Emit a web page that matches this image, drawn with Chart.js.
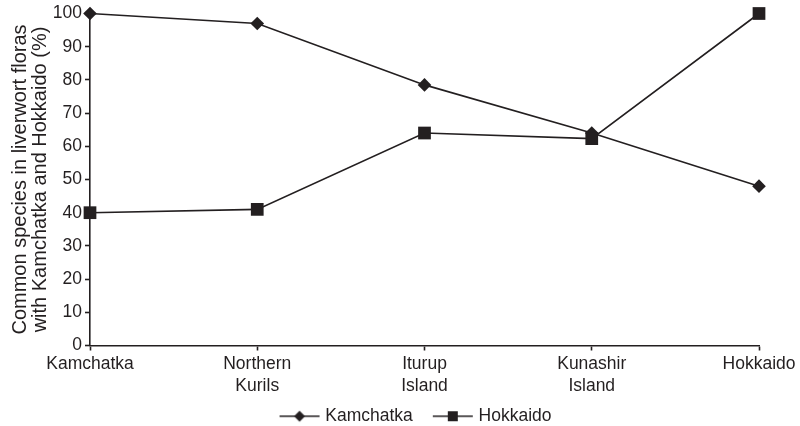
<!DOCTYPE html>
<html>
<head>
<meta charset="utf-8">
<title>Common liverwort species</title>
<script src="https://cdn.jsdelivr.net/npm/chart.js@4/dist/chart.umd.min.js"></script>
<style>
  html, body { margin: 0; padding: 0; background: #ffffff; }
  #wrap { width: 800px; height: 426px; position: relative; }
</style>
</head>
<body>
<div id="wrap"><canvas id="chart" width="800" height="426"></canvas></div>
<script>
// Sites along the Kamchatka – Kuril Islands – Hokkaido transect
const sites = ['Kamchatka', ['Northern', 'Kurils'], ['Iturup', 'Island'], ['Kunashir', 'Island'], 'Hokkaido'];

// Share of species in common with each reference flora (%)
const withKamchatka = [100, 97, 78.5, 64, 48];
const withHokkaido = [40, 41, 64, 62.3, 100];

const seriesNames = ['Kamchatka', 'Hokkaido'];
const yTitle = ['Common species in liverwort floras', 'with Kamchatka and Hokkaido (%)'];

const INK = '#231f20';
const FONT = "'Liberation Sans', Arial, Helvetica, sans-serif";
const SIZE = 17.5;
const TITLE_SIZE = 20;

Chart.defaults.font.family = FONT;
Chart.defaults.font.size = SIZE;
Chart.defaults.color = INK;

// Legend sample: a short line with the series marker in its middle
function legendSample(style) {
  const c = document.createElement('canvas');
  c.width = 80; c.height = 16;
  const g = c.getContext('2d');
  g.strokeStyle = INK; g.fillStyle = INK; g.lineWidth = 1.6;
  g.beginPath(); g.moveTo(31, 8); g.lineTo(71, 8); g.stroke();
  const cx = 51, cy = 8;
  g.beginPath();
  if (style === 'rectRot') {
    const r = 5.5;
    g.moveTo(cx - r, cy); g.lineTo(cx, cy - r); g.lineTo(cx + r, cy); g.lineTo(cx, cy + r);
    g.closePath();
  } else {
    const h = 5;
    g.rect(cx - h, cy - h, 2 * h, 2 * h);
  }
  g.fill();
  return c;
}

const markerStyles = ['rectRot', 'rect'];
const markerRadius = [6.8, 9];

const datasets = [withKamchatka, withHokkaido].map((values, i) => ({
  label: seriesNames[i],
  data: values,
  borderColor: INK,
  backgroundColor: INK,
  borderWidth: 1.6,
  pointStyle: markerStyles[i],
  pointRadius: markerRadius[i],
  pointHoverRadius: markerRadius[i],
  pointBorderWidth: 0,
  pointBackgroundColor: INK,
  tension: 0,
  fill: false,
  clip: false,
  order: i === 0 ? 1 : 0
}));

new Chart(document.getElementById('chart'), {
  type: 'line',
  data: { labels: sites, datasets },
  options: {
    responsive: false,
    animation: false,
    layout: { padding: { left: 12, right: 0, top: 9, bottom: -9 } },
    plugins: {
      tooltip: { enabled: false },
      legend: {
        position: 'bottom',
        fullSize: true,
        labels: {
          usePointStyle: true,
          pointStyleWidth: 56,
          padding: 1,
          color: INK,
          font: { size: SIZE, lineHeight: 1.1 },
          generateLabels(chart) {
            return chart.data.datasets.map((ds, i) => ({
              text: ds.label,
              datasetIndex: i,
              pointStyle: legendSample(ds.pointStyle),
              fillStyle: INK,
              strokeStyle: INK,
              lineWidth: 0,
              fontColor: INK,
              hidden: false
            }));
          }
        }
      }
    },
    scales: {
      x: {
        type: 'category',
        offset: false,
        border: { display: true, color: INK, width: 1.6 },
        grid: { display: true, drawOnChartArea: false, drawTicks: true, tickLength: 5, tickColor: INK, tickWidth: 1.6 },
        ticks: { autoSkip: false, maxRotation: 0, minRotation: 0, padding: 3, color: INK, font: { size: SIZE, lineHeight: 1.26 } },
        afterFit(scale) {
          scale.height = 61;
          scale.paddingRight = 41;
        }
      },
      y: {
        min: 0,
        max: 100,
        border: { display: true, color: INK, width: 1.6 },
        grid: { display: true, drawOnChartArea: false, drawTicks: true, tickLength: 5, tickColor: INK, tickWidth: 1.6 },
        ticks: { stepSize: 10, padding: 3, color: INK, font: { size: SIZE } },
        title: {
          display: true,
          text: yTitle,
          color: INK,
          font: { size: TITLE_SIZE, lineHeight: 1.0 },
          padding: { top: -2, bottom: 0 }
        },
        afterFit(scale) {
          scale.width = 78;
        }
      }
    }
  }
});
</script>
</body>
</html>
